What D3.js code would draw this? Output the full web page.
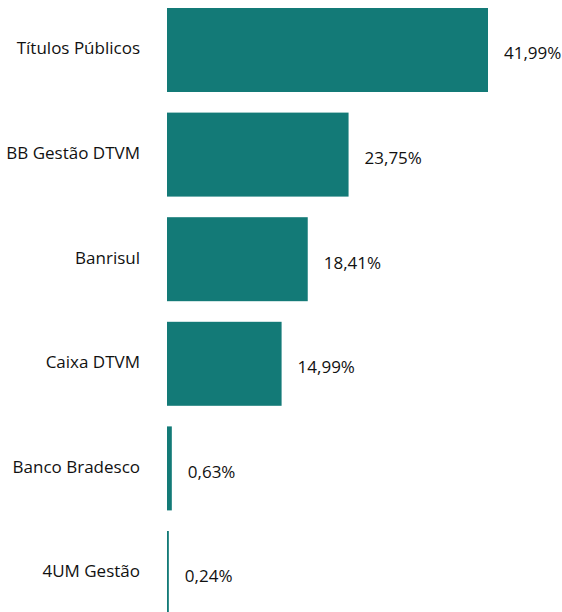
<!DOCTYPE html>
<html>
<head>
<meta charset="utf-8">
<script src="https://cdn.jsdelivr.net/npm/d3@7"></script>
<style>
  body { margin: 0; background: #fff; }
  text { font-family: "Open Sans", sans-serif; font-size: 17px; fill: #111; }
</style>
</head>
<body>
<div id="chart"></div>
<script>
var categories = ["Títulos Públicos", "BB Gestão DTVM", "Banrisul", "Caixa DTVM", "Banco Bradesco", "4UM Gestão"];
var values = [41.99, 23.75, 18.41, 14.99, 0.63, 0.24];
var labels = ["41,99%", "23,75%", "18,41%", "14,99%", "0,63%", "0,24%"];

var width = 562, height = 612;
var margin = {left: 167};

var data = categories.map((c, i) => ({cat: c, val: values[i], label: labels[i]}));

var svg = d3.select("#chart")
    .append("svg")
    .attr("width", width)
    .attr("height", height);

var x = d3.scaleLinear()
    .domain([0, 41.99])
    .range([margin.left, 488]);

var step = 104.6, pad = 0.197;
var y = d3.scaleBand()
    .domain(categories)
    .range([8 - step * pad / 2, 8 - step * pad / 2 + step * categories.length])
    .paddingInner(pad)
    .paddingOuter(pad / 2);

svg.selectAll("rect")
    .data(data)
    .join("rect")
    .attr("x", x(0))
    .attr("y", d => y(d.cat))
    .attr("width", d => x(d.val) - x(0))
    .attr("height", y.bandwidth())
    .attr("fill", "#137a77");

svg.selectAll("text.cat")
    .data(data)
    .join("text")
    .attr("class", "cat")
    .attr("x", 140)
    .attr("y", d => y(d.cat) + y.bandwidth() / 2 - 2)
    .attr("text-anchor", "end")
    .attr("dominant-baseline", "central")
    .text(d => d.cat);

svg.selectAll("text.val")
    .data(data)
    .join("text")
    .attr("class", "val")
    .attr("x", d => x(d.val) + 16)
    .attr("y", d => y(d.cat) + y.bandwidth() / 2 + 3)
    .attr("dominant-baseline", "central")
    .text(d => d.label);
</script>
</body>
</html>
